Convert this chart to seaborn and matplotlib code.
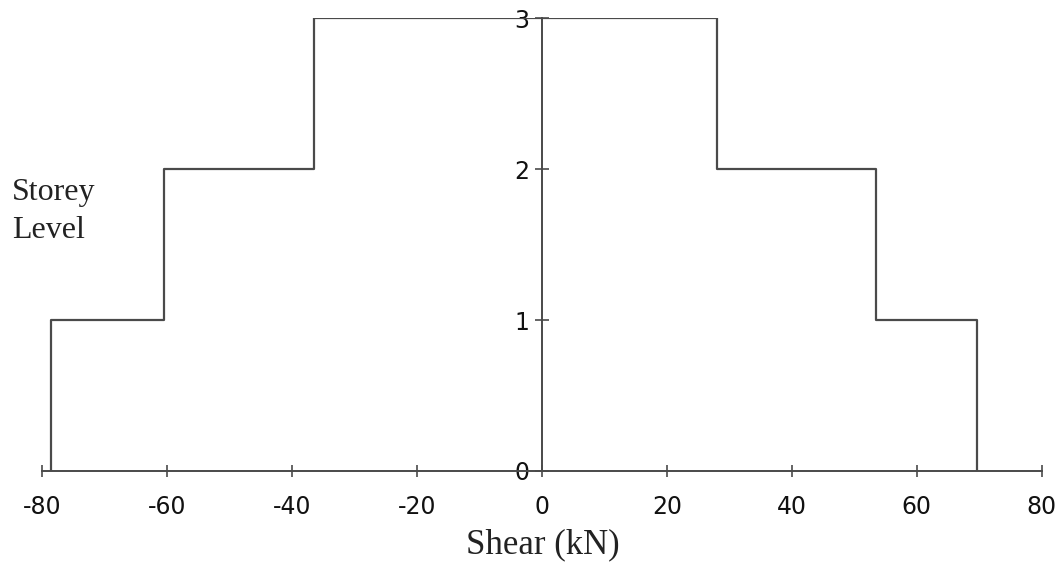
import matplotlib
matplotlib.use("Agg")
import matplotlib.pyplot as plt
import seaborn as sns
import pandas as pd

# Storey shear envelope: negative and positive shear at each storey (kN)
storeys = [1, 2, 3]
shear_neg = [-78.5, -60.5, -36.5]
shear_pos = [69.6, 53.5, 28.0]
x_ticks = [-80, -60, -40, -20, 0, 20, 40, 60, 80]
y_ticks = [0, 1, 2, 3]

# Build the stepped outline: up the negative side, across the roof, down the positive side
xs, ys = [], []
for lvl, v in zip(storeys, shear_neg):
    xs += [v, v]
    ys += [lvl - 1, lvl]
for lvl, v in reversed(list(zip(storeys, shear_pos))):
    xs += [v, v]
    ys += [lvl, lvl - 1]
outline = pd.DataFrame({"shear": xs, "level": ys, "order": range(len(xs))})

sns.set_style("white")
plt.rcParams["font.family"] = ["DejaVu Sans"]

fig = plt.figure(figsize=(10.64, 5.65), dpi=100)
ax = fig.add_axes([0.0395, 0.1664, 0.9395, 0.8016])

line_col = "#4a4a4a"
sns.lineplot(data=outline, x="shear", y="level", sort=False, estimator=None,
             color=line_col, linewidth=1.6, ax=ax)

ax.set_xlim(-80, 80)
ax.set_ylim(0, 3)
ax.set_xticks(x_ticks)
ax.set_yticks(y_ticks)
ax.set_xticklabels([str(t) for t in x_ticks])
ax.set_yticklabels([str(t) for t in y_ticks])

# Axes cross at the origin
for side in ("top", "right"):
    ax.spines[side].set_visible(False)
ax.spines["left"].set_position(("data", 0))
ax.spines["bottom"].set_position(("data", 0))
for side in ("left", "bottom"):
    ax.spines[side].set_color(line_col)
    ax.spines[side].set_linewidth(1.4)
    ax.spines[side].set_zorder(1)

ax.tick_params(axis="x", direction="inout", length=9, width=1.2, color=line_col,
               pad=13, labelsize=17, labelcolor="#111111")
ax.tick_params(axis="y", direction="inout", length=10, width=1.2, color=line_col,
               pad=4, labelsize=17, labelcolor="#111111")
ax.tick_params(left=True, bottom=True)

ax.set_xlabel("")
ax.set_ylabel("")
fig.text(0.510, 0.035, "Shear (kN)", family="Liberation Serif", fontsize=25,
         ha="center", va="center", color="#222222")
fig.text(0.011, 0.626, "Storey\nLevel", family="Liberation Serif", fontsize=23,
         ha="left", va="center", color="#222222", linespacing=1.4)

fig.savefig("out.png", dpi=100, facecolor="white")
